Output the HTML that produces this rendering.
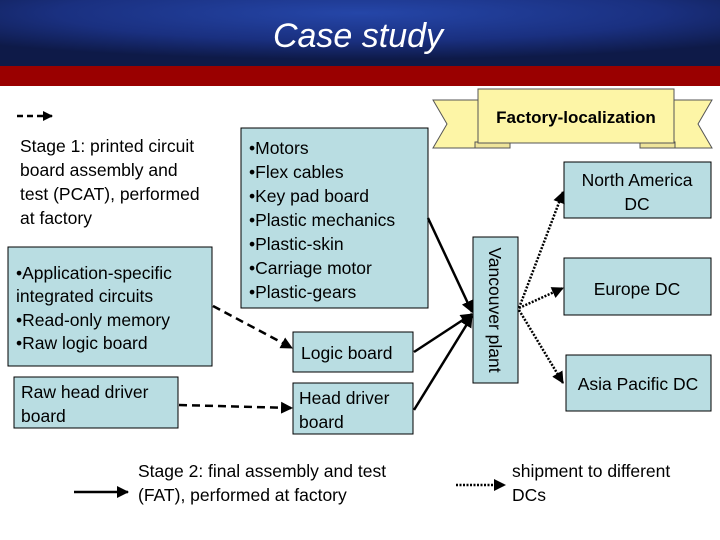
<!DOCTYPE html>
<html><head><meta charset="utf-8"><style>
body{margin:0;width:720px;height:540px;overflow:hidden;background:#fff}
svg{display:block}
text{font-family:"Liberation Sans",Arial,sans-serif}
</style></head><body>
<svg width="720" height="540" viewBox="0 0 720 540">
<defs>
<radialGradient id="hg" cx="0.5" cy="0.2" r="0.7">
<stop offset="0" stop-color="#2546a8"/><stop offset="0.6" stop-color="#1a3080"/><stop offset="1" stop-color="#0e1a48"/>
</radialGradient>
<marker id="a" markerWidth="10" markerHeight="10" refX="9" refY="5" orient="auto" markerUnits="userSpaceOnUse"><path d="M0,0 L10,5 L0,10z" fill="#000"/></marker>
<marker id="a2" markerWidth="12" markerHeight="12" refX="11" refY="6" orient="auto" markerUnits="userSpaceOnUse"><path d="M0,0 L12,6 L0,12z" fill="#000"/></marker>
</defs>
<rect x="0" y="0" width="720" height="66" fill="url(#hg)"/>
<rect x="0" y="66" width="720" height="20" fill="#9a0000"/>
<text x="358" y="47" font-size="34" font-style="italic" fill="#fff" text-anchor="middle">Case study</text>

<path d="M433,100 L480,100 L480,148 L433,148 L447,124 Z" fill="#fdf5a6" stroke="#555" stroke-width="1"/>
<path d="M712,100 L672,100 L672,148 L712,148 L698,124 Z" fill="#fdf5a6" stroke="#555" stroke-width="1"/>
<rect x="475" y="142" width="35" height="6" fill="#eee49a" stroke="#555"/>
<rect x="640" y="142" width="35" height="6" fill="#eee49a" stroke="#555"/>
<rect x="478" y="89" width="196" height="54" fill="#fdf5a6" stroke="#555"/>
<text x="576" y="123" font-size="17" font-weight="bold" text-anchor="middle">Factory-localization</text>

<line x1="17" y1="116" x2="52" y2="116" stroke="#000" stroke-width="2.5" stroke-dasharray="6,4" marker-end="url(#a)"/>

<g font-size="17.5" fill="#000">
<text x="20" y="152">Stage 1: printed circuit</text>
<text x="20" y="176">board assembly and</text>
<text x="20" y="200">test (PCAT), performed</text>
<text x="20" y="224">at factory</text>
</g>

<g fill="#b9dde2" stroke="#000" stroke-width="1">
<rect x="241" y="128" width="187" height="180"/>
<rect x="8" y="247" width="204" height="119"/>
<rect x="14" y="377" width="164" height="51"/>
<rect x="293" y="332" width="120" height="40"/>
<rect x="293" y="383" width="120" height="51"/>
<rect x="473" y="237" width="45" height="146"/>
<rect x="564" y="162" width="147" height="56"/>
<rect x="564" y="258" width="147" height="57"/>
<rect x="566" y="355" width="145" height="56"/>
</g>

<g font-size="17.5" fill="#000">
<text x="249" y="154">•Motors</text>
<text x="249" y="178">•Flex cables</text>
<text x="249" y="202">•Key pad board</text>
<text x="249" y="226">•Plastic mechanics</text>
<text x="249" y="250">•Plastic-skin</text>
<text x="249" y="274">•Carriage motor</text>
<text x="249" y="298">•Plastic-gears</text>
<text x="16" y="279">•Application-specific</text>
<text x="16" y="302">integrated circuits</text>
<text x="16" y="326">•Read-only memory</text>
<text x="16" y="349">•Raw logic board</text>
<text x="21" y="398">Raw head driver</text>
<text x="21" y="422">board</text>
<text x="301" y="359">Logic board</text>
<text x="299" y="404">Head driver</text>
<text x="299" y="428">board</text>
<text x="637" y="186" text-anchor="middle">North America</text>
<text x="637" y="210" text-anchor="middle">DC</text>
<text x="637" y="295" text-anchor="middle">Europe DC</text>
<text x="638" y="390" text-anchor="middle">Asia Pacific DC</text>
<text transform="translate(489,310) rotate(90)" text-anchor="middle">Vancouver plant</text>
<text x="138" y="477">Stage 2: final assembly and test</text>
<text x="138" y="501">(FAT), performed at factory</text>
<text x="512" y="477">shipment to different</text>
<text x="512" y="501">DCs</text>
</g>

<line x1="213" y1="306" x2="292" y2="348" stroke="#000" stroke-width="2.5" stroke-dasharray="8,5" marker-end="url(#a2)"/>
<line x1="179" y1="405" x2="292" y2="408" stroke="#000" stroke-width="2.5" stroke-dasharray="8,5" marker-end="url(#a2)"/>
<g stroke="#000" stroke-width="2.5">
<line x1="428" y1="218" x2="472" y2="312" marker-end="url(#a2)"/>
<line x1="414" y1="352" x2="472" y2="314" marker-end="url(#a2)"/>
<line x1="414" y1="410" x2="472" y2="316" marker-end="url(#a2)"/>
<line x1="74" y1="492" x2="128" y2="492" marker-end="url(#a2)"/>
</g>
<g stroke="#000" stroke-width="2.5" stroke-dasharray="2,1.5">
<line x1="519" y1="308" x2="563" y2="192" marker-end="url(#a2)"/>
<line x1="519" y1="308" x2="563" y2="288" marker-end="url(#a2)"/>
<line x1="519" y1="310" x2="563" y2="383" marker-end="url(#a2)"/>
<line x1="456" y1="485" x2="505" y2="485" marker-end="url(#a2)"/>
</g>
</svg>
</body></html>
